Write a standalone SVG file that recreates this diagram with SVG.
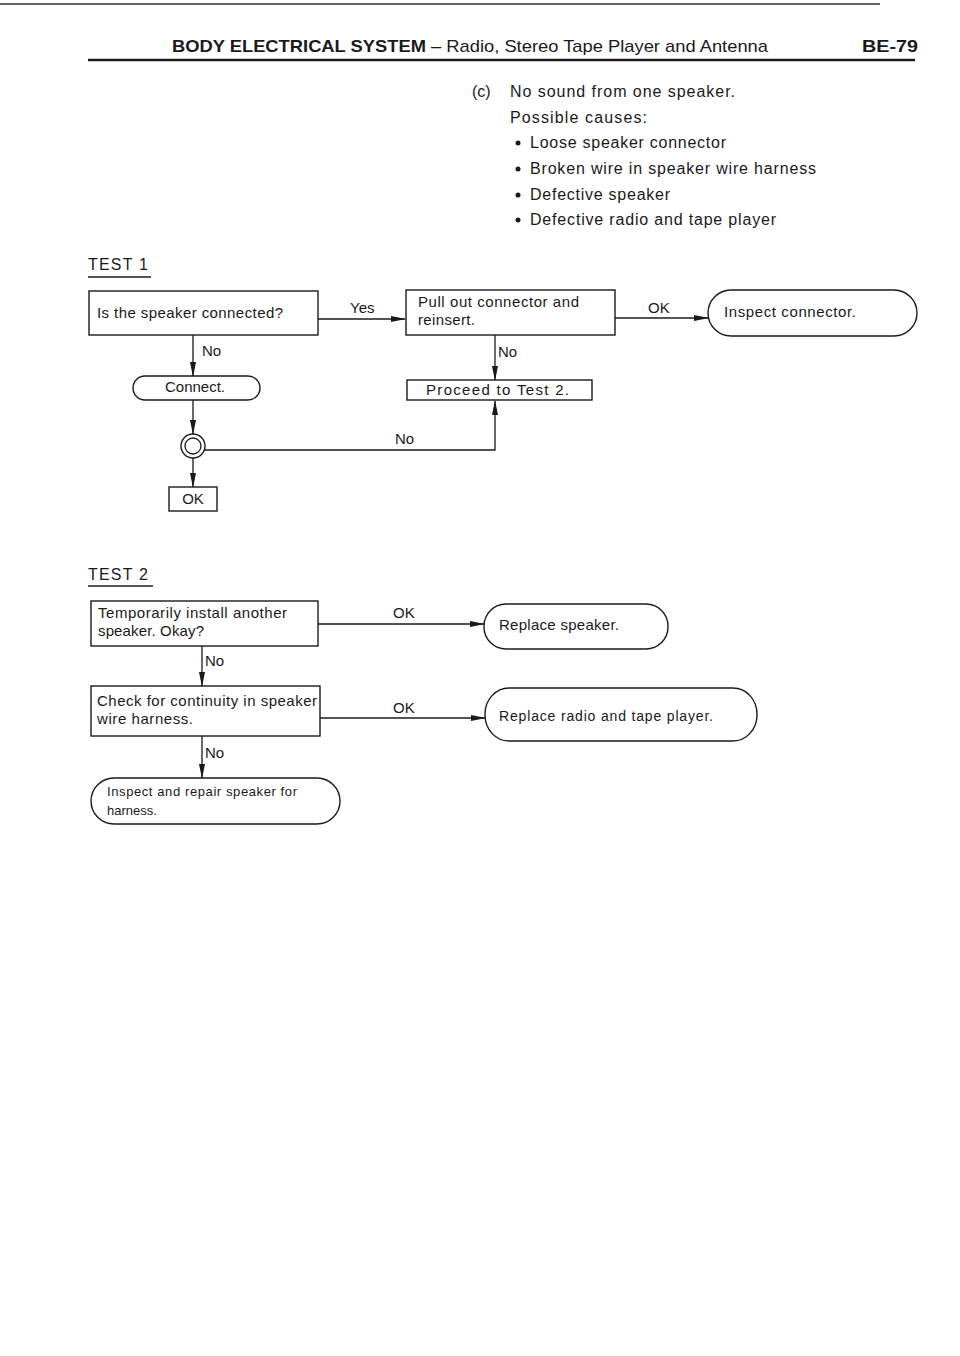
<svg xmlns="http://www.w3.org/2000/svg" width="960" height="1356" viewBox="0 0 960 1356">
<defs>
<marker id="ah" markerWidth="15" markerHeight="8" refX="14" refY="4" orient="auto" markerUnits="userSpaceOnUse">
<path d="M0,1 L15,4 L0,7 Z" fill="#1a1a1a"/>
</marker>
<style>
text{font-family:"Liberation Sans",Arial,sans-serif;fill:#1a1a1a;font-size:15px}
.box{fill:#fff;stroke:#1a1a1a;stroke-width:1.4}
.ln{fill:none;stroke:#1a1a1a;stroke-width:1.3}
.arr{fill:none;stroke:#1a1a1a;stroke-width:1.3;marker-end:url(#ah)}
.hd{font-size:17px}
.body{font-size:16px}
.sm{font-size:14px}
.xs{font-size:13px}
</style>
</defs>
<rect width="960" height="1356" fill="#fff"/>
<g id="header">
<line x1="0" y1="4" x2="880" y2="4" stroke="#333" stroke-width="1.4"/>
<text x="172" y="52" class="hd" textLength="596" lengthAdjust="spacingAndGlyphs"><tspan font-weight="bold">BODY ELECTRICAL SYSTEM</tspan> – Radio, Stereo Tape Player and Antenna</text>
<text x="862" y="52" class="hd" font-weight="bold" textLength="56" lengthAdjust="spacingAndGlyphs">BE-79</text>
<line x1="88" y1="60" x2="915" y2="60" stroke="#1a1a1a" stroke-width="2.5"/>
</g>
<g id="causes">
<text x="472" y="97" class="body">(c)</text>
<text x="510" y="97" class="body" textLength="225" lengthAdjust="spacing">No sound from one speaker.</text>
<text x="510" y="123" class="body" textLength="137" lengthAdjust="spacing">Possible causes:</text>
<circle cx="518" cy="143" r="2.5" fill="#1a1a1a"/>
<text x="530" y="148" class="body" textLength="196" lengthAdjust="spacing">Loose speaker connector</text>
<circle cx="518" cy="169" r="2.5" fill="#1a1a1a"/>
<text x="530" y="174" class="body" textLength="286" lengthAdjust="spacing">Broken wire in speaker wire harness</text>
<circle cx="518" cy="195" r="2.5" fill="#1a1a1a"/>
<text x="530" y="200" class="body" textLength="140" lengthAdjust="spacing">Defective speaker</text>
<circle cx="518" cy="220" r="2.5" fill="#1a1a1a"/>
<text x="530" y="225" class="body" textLength="246" lengthAdjust="spacing">Defective radio and tape player</text>
</g>
<g id="test1-title">
<text x="88" y="270" class="body" textLength="60" lengthAdjust="spacing">TEST 1</text>
<line x1="88" y1="277" x2="151" y2="277" stroke="#1a1a1a" stroke-width="1.4"/>
</g>
<g id="connectors">
<line class="arr" x1="318" y1="319" x2="405" y2="319"/>
<text x="350" y="313">Yes</text>
<line class="arr" x1="615" y1="318" x2="708" y2="318"/>
<text x="648" y="313">OK</text>
<line class="arr" x1="193" y1="335" x2="193" y2="376"/>
<text x="202" y="356">No</text>
<line class="arr" x1="495" y1="335" x2="495" y2="380"/>
<text x="498" y="357">No</text>
<line class="arr" x1="193" y1="400" x2="193" y2="434"/>
<line class="arr" x1="193" y1="458" x2="193" y2="487"/>
<polyline class="arr" points="205,450 495,450 495,401"/>
<text x="395" y="444">No</text>
<line class="arr" x1="318" y1="624" x2="484" y2="624"/>
<text x="393" y="618">OK</text>
<line class="arr" x1="202" y1="646" x2="202" y2="686"/>
<text x="205" y="666">No</text>
<line class="arr" x1="320" y1="718" x2="485" y2="718"/>
<text x="393" y="713">OK</text>
<line class="arr" x1="202" y1="736" x2="202" y2="778"/>
<text x="205" y="758">No</text>
</g>
<g id="n-speaker-connected">
<rect class="box" x="89" y="291" width="229" height="44"/>
<text x="97" y="318" textLength="186" lengthAdjust="spacing">Is the speaker connected?</text>
</g>
<g id="n-pull-out">
<rect class="box" x="406" y="290" width="209" height="45"/>
<text x="418" y="307" textLength="161" lengthAdjust="spacing">Pull out connector and</text>
<text x="418" y="325" textLength="57" lengthAdjust="spacing">reinsert.</text>
</g>
<g id="n-inspect-connector">
<rect class="box" x="708" y="290" width="209" height="46" rx="23" ry="23"/>
<text x="724" y="317" textLength="132" lengthAdjust="spacing">Inspect connector.</text>
</g>
<g id="n-connect">
<rect class="box" x="133" y="376" width="127" height="24" rx="12" ry="12"/>
<text x="195" y="392" text-anchor="middle">Connect.</text>
</g>
<g id="n-proceed">
<rect class="box" x="407" y="380" width="185" height="20"/>
<text x="426" y="395" textLength="143" lengthAdjust="spacing">Proceed to Test 2.</text>
</g>
<g id="n-check-circle">
<circle class="box" cx="193" cy="446" r="12"/>
<circle class="ln" cx="193" cy="446" r="8"/>
</g>
<g id="n-ok">
<rect class="box" x="169" y="487" width="48" height="24"/>
<text x="193" y="504" text-anchor="middle">OK</text>
</g>
<g id="test2-title">
<text x="88" y="580" class="body" textLength="60" lengthAdjust="spacing">TEST 2</text>
<line x1="88" y1="586" x2="153" y2="586" stroke="#1a1a1a" stroke-width="1.4"/>
</g>
<g id="n-temp-install">
<rect class="box" x="91" y="601" width="227" height="45"/>
<text x="98" y="618" textLength="189" lengthAdjust="spacing">Temporarily install another</text>
<text x="98" y="636" textLength="106" lengthAdjust="spacing">speaker. Okay?</text>
</g>
<g id="n-replace-speaker">
<rect class="box" x="484" y="604" width="184" height="45" rx="22" ry="22"/>
<text x="499" y="630" textLength="120" lengthAdjust="spacing">Replace speaker.</text>
</g>
<g id="n-continuity">
<rect class="box" x="91" y="686" width="229" height="50"/>
<text x="97" y="706" textLength="220" lengthAdjust="spacing">Check for continuity in speaker</text>
<text x="97" y="724" textLength="96" lengthAdjust="spacing">wire harness.</text>
</g>
<g id="n-replace-radio">
<rect class="box" x="485" y="688" width="272" height="53" rx="24" ry="26"/>
<text x="499" y="721" class="sm" textLength="214" lengthAdjust="spacing">Replace radio and tape player.</text>
</g>
<g id="n-inspect-repair">
<rect class="box" x="91" y="778" width="249" height="46" rx="23" ry="23"/>
<text x="107" y="796" class="xs" textLength="190" lengthAdjust="spacing">Inspect and repair speaker for</text>
<text x="107" y="815" class="xs">harness.</text>
</g>
</svg>
